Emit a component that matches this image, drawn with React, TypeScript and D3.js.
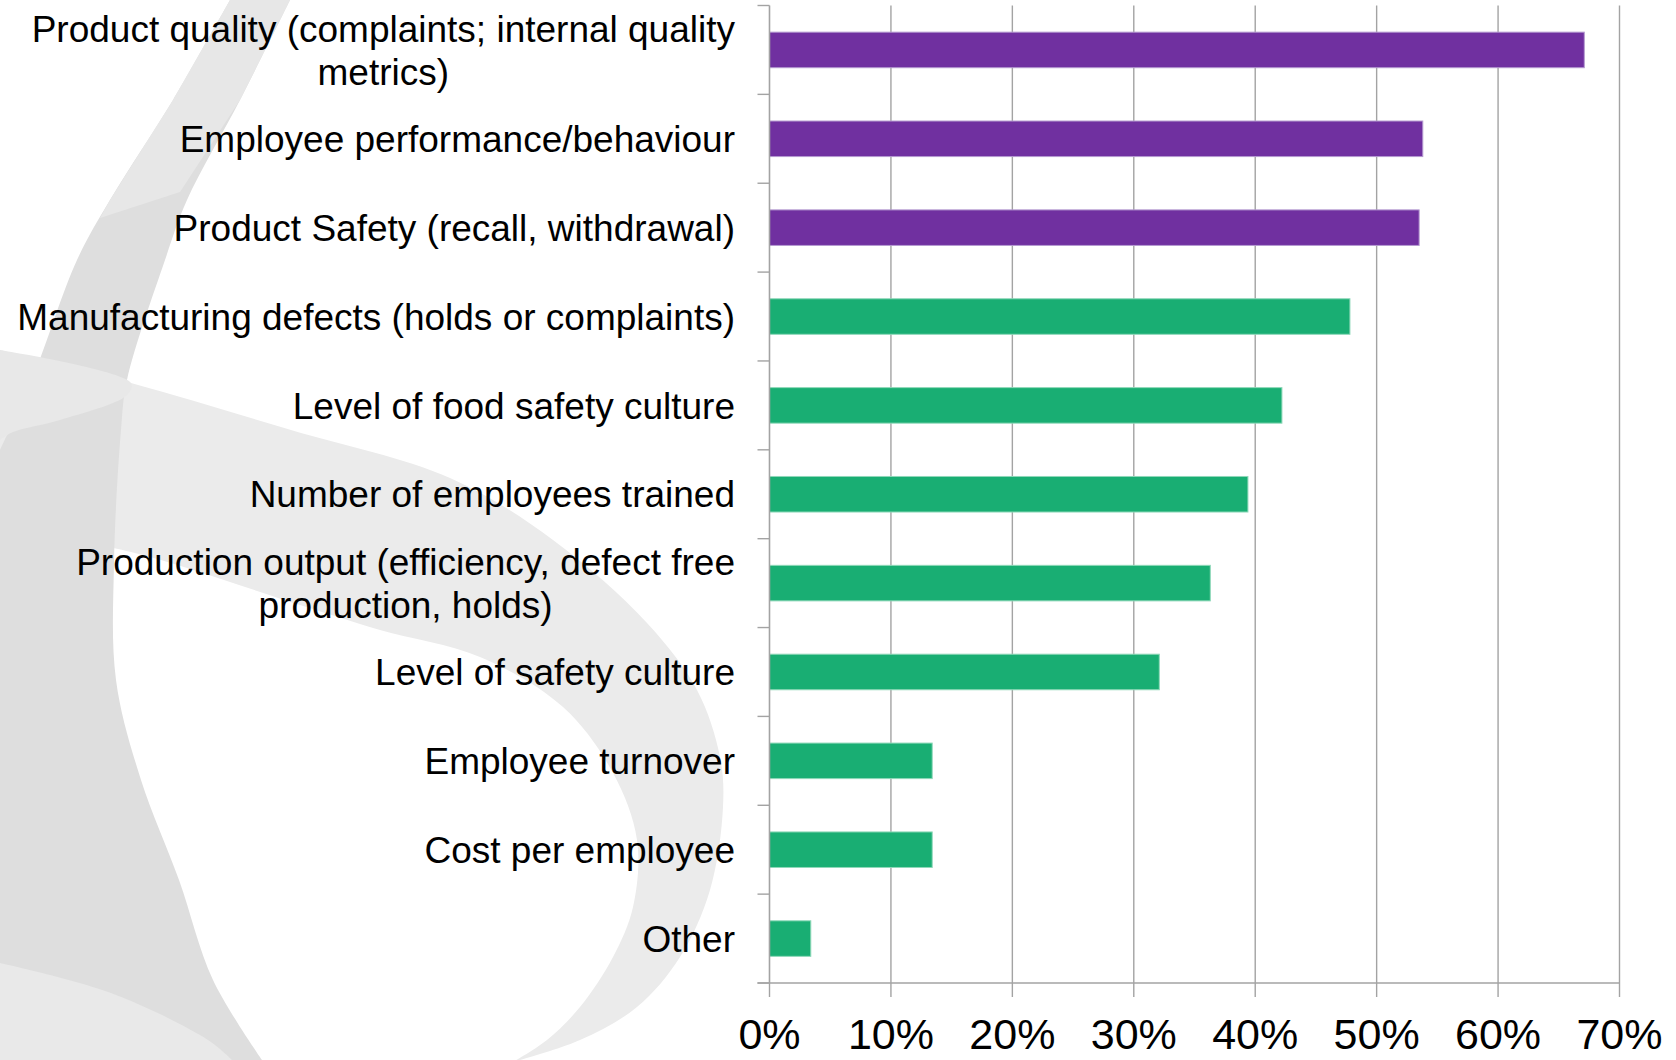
import React, { useEffect, useRef } from "react";
import * as d3 from "d3";

// ---- data ----
const categories: string[] = [
  "Product quality (complaints; internal quality\nmetrics)",
  "Employee performance/behaviour",
  "Product Safety (recall, withdrawal)",
  "Manufacturing defects (holds or complaints)",
  "Level of food safety culture",
  "Number of employees trained",
  "Production output (efficiency, defect free\nproduction, holds)",
  "Level of safety culture",
  "Employee turnover",
  "Cost per employee",
  "Other",
];
const values: number[] = [0.671, 0.538, 0.535, 0.478, 0.422, 0.394, 0.363, 0.321, 0.134, 0.134, 0.034];
const groups: string[] = ["top", "top", "top", "rest", "rest", "rest", "rest", "rest", "rest", "rest", "rest"];
const tickValues: number[] = [0, 0.1, 0.2, 0.3, 0.4, 0.5, 0.6, 0.7];
const tickLabels: string[] = ["0%", "10%", "20%", "30%", "40%", "50%", "60%", "70%"];

// ---- decorative watermark (background logo) ----
type P = [number, number];
const bandLeft: P[] = [[230, 0], [173, 100], [110, 200], [77, 260], [33, 377], [0, 450]];
const bandRight: P[] = [[262, 1060], [213, 980], [179, 880], [141, 780], [116, 680], [114, 563], [121, 430], [127, 380], [165, 260], [187, 200], [240, 100], [290, 0]];
const bandTopLight: P[] = [[230, 0], [290, 0], [240, 100], [180, 192], [140, 205], [100, 218], [110, 200], [173, 100]];
const crescentOuter: P[] = [[0, 350], [131, 383], [291, 430], [450, 478], [553, 540], [647, 623], [697, 690], [720, 757], [723, 807], [710, 890], [680, 957], [637, 1007], [580, 1040], [513, 1062]];
const crescentInner: P[] = [[513, 1062], [547, 1040], [580, 1007], [613, 957], [633, 907], [637, 840], [613, 773], [563, 707], [480, 657], [380, 630], [300, 605], [131, 552], [0, 528]];
const overlapPatch: P[] = [[0, 350], [131, 383], [127, 395], [60, 420], [13, 432], [0, 440]];
const bottomLeft: P[] = [[0, 963], [111, 993], [208, 1040], [232, 1060], [0, 1060]];

const W = 1676;
const H = 1060;

export default function App() {
  const ref = useRef<SVGSVGElement | null>(null);

  useEffect(() => {
    const svg = d3.select(ref.current);
    svg.selectAll("*").remove();

    // background
    const bg = svg.append("g");
    const smooth = d3.line<P>().curve(d3.curveCatmullRom.alpha(0.5));
    const lin = d3.line<P>();
    bg.append("path")
      .attr("d", smooth(crescentOuter)! + "L" + smooth(crescentInner)!.slice(1) + "Z")
      .attr("fill", "#ebebeb");
    bg.append("path")
      .attr("d", smooth(bandLeft)! + "L0,1060" + "L" + smooth(bandRight)!.slice(1) + "Z")
      .attr("fill", "#dedede");
    bg.append("path").attr("d", lin(bandTopLight)! + "Z").attr("fill", "#e7e7e7");
    bg.append("path").attr("d", smooth(overlapPatch)! + "Z").attr("fill", "#e8e8e8");
    bg.append("path").attr("d", smooth(bottomLeft.slice(0, 4))! + "L0,1060Z").attr("fill", "#e9e9e9");

    // scales
    const x = d3.scaleLinear().domain([0, 0.7]).range([769.5, 1619.5]);
    const y = d3.scaleBand<string>().domain(categories).range([5.5, 983]).paddingInner(0.6).paddingOuter(0.3);
    const step = y.step();
    const color = d3.scaleOrdinal<string, string>().domain(["top", "rest"]).range(["#7030a0", "#19ae73"]);
    const strokeColor = d3.scaleOrdinal<string, string>().domain(["top", "rest"]).range(["#b49ad0", "#8fd8b9"]);

    const gridColor = "#a3a3a3";
    const top = 5.5;
    const bottom = 983;

    // vertical gridlines
    svg.append("g")
      .selectAll("line")
      .data(tickValues.slice(1))
      .join("line")
      .attr("x1", (d) => x(d))
      .attr("x2", (d) => x(d))
      .attr("y1", top)
      .attr("y2", bottom)
      .attr("stroke", gridColor)
      .attr("stroke-width", 1.4);

    // bars
    svg.append("g")
      .selectAll("rect")
      .data(categories)
      .join("rect")
      .attr("x", x(0))
      .attr("y", (d) => y(d)!)
      .attr("width", (d, i) => x(values[i]) - x(0))
      .attr("height", y.bandwidth())
      .attr("fill", (d, i) => color(groups[i]))
      .attr("stroke", (d, i) => strokeColor(groups[i]))
      .attr("stroke-width", 1);

    // y axis line + ticks at band boundaries
    const ya = svg.append("g");
    ya.append("line")
      .attr("x1", x(0)).attr("x2", x(0))
      .attr("y1", top).attr("y2", bottom)
      .attr("stroke", gridColor).attr("stroke-width", 1.6);
    const bounds = d3.range(categories.length + 1).map((k) => top + k * step);
    ya.selectAll("line.t")
      .data(bounds)
      .join("line")
      .attr("class", "t")
      .attr("x1", x(0) - 12).attr("x2", x(0))
      .attr("y1", (d) => d).attr("y2", (d) => d)
      .attr("stroke", gridColor).attr("stroke-width", 1.4);

    // x axis
    const xa = svg.append("g");
    xa.append("line")
      .attr("x1", x(0) - 12).attr("x2", x(0.7))
      .attr("y1", bottom).attr("y2", bottom)
      .attr("stroke", gridColor).attr("stroke-width", 1.6);
    xa.selectAll("line.t")
      .data(tickValues)
      .join("line")
      .attr("class", "t")
      .attr("x1", (d) => x(d)).attr("x2", (d) => x(d))
      .attr("y1", bottom).attr("y2", bottom + 14)
      .attr("stroke", gridColor).attr("stroke-width", 1.4);
    xa.selectAll("text")
      .data(tickValues)
      .join("text")
      .attr("x", (d) => x(d))
      .attr("y", 1049)
      .attr("text-anchor", "middle")
      .attr("font-family", "'Liberation Sans', Arial, sans-serif")
      .attr("font-size", 43)
      .attr("fill", "#000")
      .text((d, i) => tickLabels[i]);

    // category labels
    const fs = 37;
    const lineGap = 42.7;
    const rightEdge = 735;
    const lg = svg.append("g")
      .attr("font-family", "'Liberation Sans', Arial, sans-serif")
      .attr("font-size", fs)
      .attr("fill", "#000");
    categories.forEach((c) => {
      const lines = c.split("\n");
      const cy = y(c)! + y.bandwidth() / 2;
      const t = lg.append("text").attr("text-anchor", "middle");
      const spans = lines.map((ln, j) =>
        t.append("tspan")
          .attr("y", cy + (j - (lines.length - 1) / 2) * lineGap + fs * 0.716 / 2)
          .text(ln)
      );
      const widths = spans.map((s) => (s.node() as SVGTSpanElement).getComputedTextLength());
      const maxW = Math.max(...widths);
      spans.forEach((s) => s.attr("x", rightEdge - maxW / 2));
    });
  }, []);

  return (
    <svg
      ref={ref}
      width={W}
      height={H}
      viewBox={`0 0 ${W} ${H}`}
      style={{ position: "absolute", left: 0, top: 0, background: "#ffffff" }}
    />
  );
}
